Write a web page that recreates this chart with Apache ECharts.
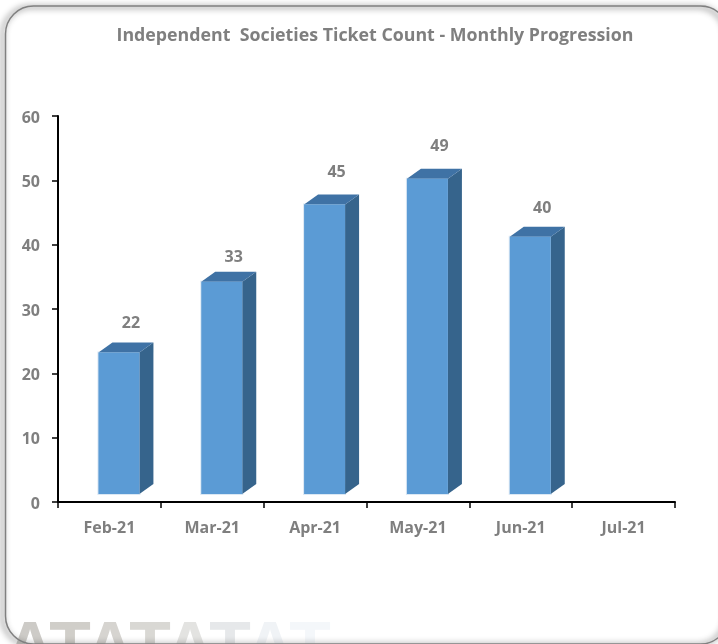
<!DOCTYPE html>
<html><head><meta charset="utf-8">
<style>html,body{margin:0;padding:0;background:#fff}#c{width:718px;height:644px}</style>
<script src="https://cdn.jsdelivr.net/npm/echarts@6/dist/echarts.min.js"></script></head>
<body><div id="c"></div>
<script>
const categories=['Feb-21','Mar-21','Apr-21','May-21','Jun-21','Jul-21'];
const ticketCounts=[22,33,45,49,40,null];
const titleText='Independent  Societies Ticket Count - Monthly Progression';
const watermarkText='ATATATAT';
const grey='#7f7f7f';
const fontFam='"Open Sans","Noto Sans",sans-serif';
const chart=echarts.init(document.getElementById('c'),null,{renderer:'canvas'});
function renderBar(params,api){
  const v=api.value(1);
  if(v==null||isNaN(v))return;
  const idx=api.value(0);
  const top=api.coord([idx,v]);
  const base=api.coord([idx,0]);
  const w=41,dx=9.5,lift=8,dep=14,up=10;
  const labelGap=[29,24,32,32,28][idx];
  const x0=top[0]-w/2+dx,x1=x0+w,yT=top[1]-lift,yB=base[1]-lift;
  return {type:'group',children:[
    {type:'rect',shape:{x:x0-1,y:yT-1,width:w+2,height:yB-yT+2},style:{fill:'#dbe8f4'}},
    {type:'polygon',shape:{points:[[x1,yT],[x1+dep,yT-up],[x1+dep,yB-up],[x1,yB]]},style:{fill:'#36648c'}},
    {type:'polygon',shape:{points:[[x0,yT],[x0+dep,yT-up],[x1+dep,yT-up],[x1,yT]]},style:{fill:'#3f72a5'}},
    {type:'rect',shape:{x:x0,y:yT,width:w,height:yB-yT},style:{fill:'#5b9bd5'}},
    {type:'text',style:{text:String(v),x:x0+w/2+12,y:yT-labelGap,align:'center',verticalAlign:'middle',fill:grey,font:'bold 16px '+fontFam}}
  ]};
}
const wmColors=['#cdcbc7','#d0cec9','#d6d4d0','#d9d8d4','#e3e3e1','#e6e8ea','#f0f3f6','#f4f7fa'];
const watermark=watermarkText.split('').map((ch,i)=>({
  type:'text',silent:true,z:0,x:30+40*i,y:616,
  style:{text:ch,align:'center',verticalAlign:'top',fill:wmColors[i],font:'bold 68px "Liberation Sans",sans-serif'}
}));
chart.setOption({
  animation:false,
  backgroundColor:'#fff',
  grid:{left:58,right:43,top:116,bottom:142,containLabel:false},
  graphic:watermark.concat([
    {type:'rect',silent:true,z:1,shape:{x:5.5,y:6,width:723,height:638,r:28},
      style:{fill:'rgba(0,0,0,0)',stroke:'#808080',lineWidth:1.5,shadowColor:'rgba(0,0,0,0.85)',shadowBlur:6,shadowOffsetX:-3,shadowOffsetY:1}}
  ]),
  title:{text:titleText,left:370,top:22,textAlign:'center',textStyle:{color:grey,fontFamily:fontFam,fontWeight:'bold',fontSize:17.8}},
  xAxis:{type:'category',data:categories,boundaryGap:true,
    axisLine:{lineStyle:{color:'#000',width:2}},
    axisTick:{show:true,alignWithLabel:false,length:6,lineStyle:{color:'#000',width:1.5}},
    axisLabel:{color:grey,fontFamily:fontFam,fontWeight:'bold',fontSize:16,margin:18},
    splitLine:{show:false}},
  yAxis:{type:'value',min:0,max:60,interval:10,
    axisLine:{show:true,lineStyle:{color:'#000',width:2}},
    axisTick:{show:true,length:6,lineStyle:{color:'#000',width:1.5}},
    axisLabel:{color:grey,fontFamily:fontFam,fontWeight:'bold',fontSize:16,margin:18,verticalAlign:'top',lineHeight:4},
    splitLine:{show:false}},
  series:[{type:'custom',renderItem:renderBar,clip:false,
    encode:{x:0,y:1},
    data:categories.map((c,i)=>[i,ticketCounts[i]])}]
});
</script></body></html>
